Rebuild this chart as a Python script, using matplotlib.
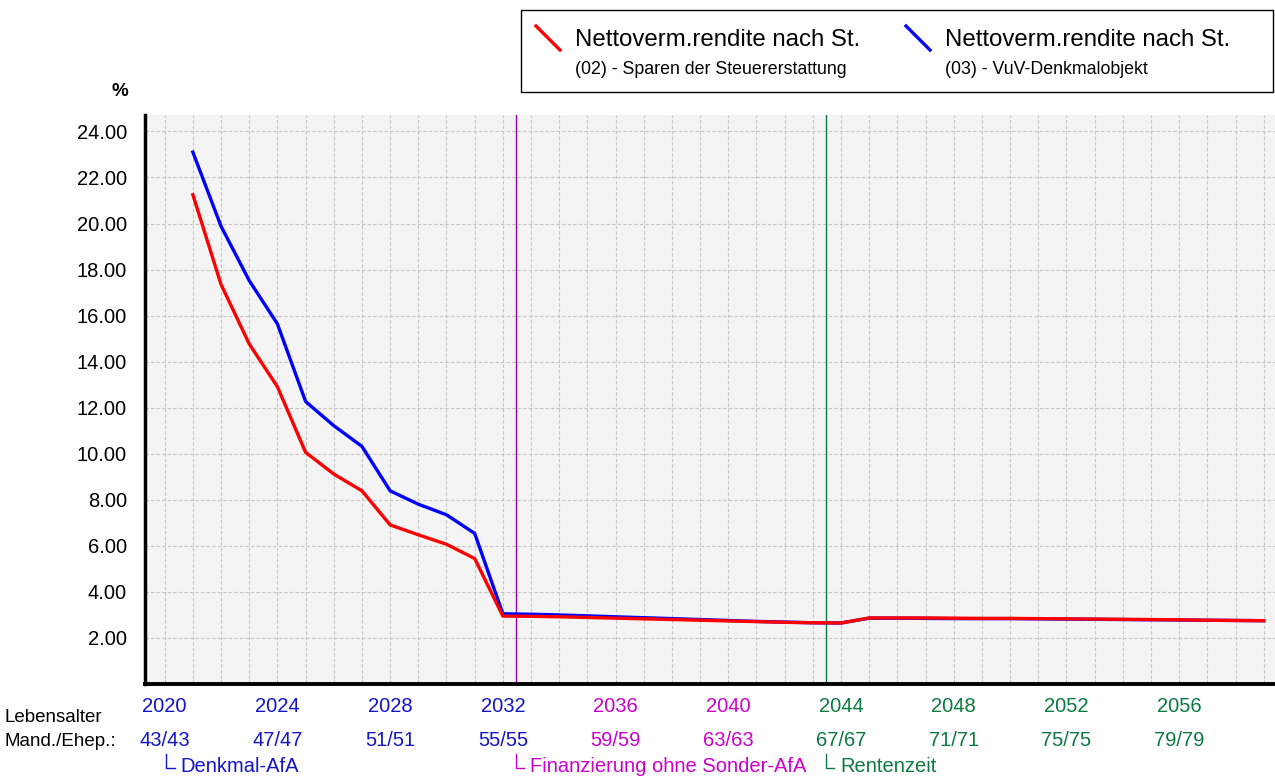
import matplotlib
matplotlib.use("Agg")
import matplotlib.pyplot as plt
from matplotlib.lines import Line2D
from matplotlib.patches import Rectangle
from matplotlib.transforms import blended_transform_factory

plt.rcParams['font.family'] = ['Liberation Sans', 'DejaVu Sans']

# --- data ---
years = list(range(2021, 2060))
rendite_02 = [21.25, 17.35, 14.77, 12.91, 10.06, 9.12, 8.39, 6.91, 6.48, 6.07, 5.45,
              2.95, 2.94, 2.92, 2.89, 2.86, 2.83, 2.80, 2.77, 2.74, 2.71, 2.68, 2.66, 2.65,
              2.87, 2.87, 2.87, 2.86, 2.85, 2.85, 2.84, 2.83, 2.82, 2.81, 2.80, 2.79, 2.77, 2.76, 2.75]
rendite_03 = [23.10, 19.88, 17.52, 15.64, 12.27, 11.22, 10.32, 8.39, 7.81, 7.35, 6.54,
              3.05, 3.03, 3.00, 2.96, 2.92, 2.88, 2.84, 2.80, 2.76, 2.72, 2.69, 2.66, 2.65,
              2.86, 2.86, 2.85, 2.84, 2.84, 2.84, 2.83, 2.82, 2.81, 2.80, 2.79, 2.78, 2.77, 2.76, 2.75]
tick_years = [2020, 2024, 2028, 2032, 2036, 2040, 2044, 2048, 2052, 2056]
tick_ages = ['43/43', '47/47', '51/51', '55/55', '59/59', '63/63', '67/67', '71/71', '75/75', '79/79']
phase_starts = [2020.05, 2032.45, 2043.45]
phase_names = ['Denkmal-AfA', 'Finanzierung ohne Sonder-AfA', 'Rentenzeit']
legend_main = ['Nettoverm.rendite nach St.', 'Nettoverm.rendite nach St.']
legend_sub = ['(02) - Sparen der Steuererstattung', '(03) - VuV-Denkmalobjekt']

BLUE = '#1414c8'
MAGENTA = '#cc00cc'
GREEN = '#0a7a40'
PHASE_COL = [BLUE, MAGENTA, GREEN]
LINE_COL = [None, '#9900aa', '#0a7a40']

def year_color(y):
    if y < 2033:
        return BLUE
    if y < 2044:
        return MAGENTA
    return GREEN

W, H = 1275, 778
fig = plt.figure(figsize=(12.75, 7.78), dpi=100)
ax = fig.add_axes([0.1137, 0.1208, 0.8863, 0.731])
ax.set_facecolor('#f4f4f4')

ax.plot(years, rendite_03, color='#0000ff', lw=2.4, solid_joinstyle='round', zorder=3)
ax.plot(years, rendite_02, color='#ff0000', lw=2.4, solid_joinstyle='round', zorder=4)

for x, c in zip(phase_starts[1:], LINE_COL[1:]):
    ax.axvline(x, color=c, lw=1.0, zorder=2)

ax.set_xlim(2019.3, 2059.4)
ax.set_ylim(0, 24.7)

ax.set_yticks(range(2, 25, 2))
ax.set_yticklabels(['%.2f' % v for v in range(2, 25, 2)], fontsize=14.5)
ax.set_xticks(range(2020, 2060), minor=True)
ax.set_xticks(tick_years)
ax.set_xticklabels([str(y) for y in tick_years], fontsize=14.5)
for lab, y in zip(ax.get_xticklabels(), tick_years):
    lab.set_color(year_color(y))

ax.tick_params(axis='y', length=0, pad=13)
ax.tick_params(axis='x', which='both', direction='in', length=3, color='#b0b0b0', pad=9.5)

ax.grid(True, which='both', axis='x', color='#c4c4c4', ls=(0, (3, 2)), lw=0.8)
ax.grid(True, which='major', axis='y', color='#c4c4c4', ls=(0, (3, 2)), lw=0.8)
ax.set_axisbelow(True)

for s in ['top', 'right']:
    ax.spines[s].set_visible(False)
ax.spines['left'].set_linewidth(2.5)
ax.spines['bottom'].set_linewidth(2.8)

tr = blended_transform_factory(ax.transData, fig.transFigure)
for y, a in zip(tick_years, tick_ages):
    ax.text(y, 1 - 741 / H, a, transform=tr, ha='center', va='center',
            fontsize=14.5, color=year_color(y))

# phase brackets under the age row
for x, name, c in zip(phase_starts, phase_names, PHASE_COL):
    ax.add_line(Line2D([x, x, x + 0.3], [1 - 754 / H, 1 - 768 / H, 1 - 768 / H],
                       transform=tr, color=c, lw=1.0, clip_on=False))
    ax.text(x + 0.52, 1 - 767 / H, name, transform=tr, ha='left', va='center',
            fontsize=14.5, color=c)

fig.text(5 / W, 1 - 718 / H, 'Lebensalter', fontsize=13.5, va='center')
fig.text(5 / W, 1 - 741 / H, 'Mand./Ehep.:', fontsize=13.5, va='center')
fig.text(120 / W, 1 - 92 / H, '%', fontsize=13.5, fontweight='bold', ha='center', va='center')

# legend box
fig.patches.append(Rectangle((521 / W, 1 - 92 / H), (1273 - 521) / W, 82 / H,
                             transform=fig.transFigure, fill=False, ec='black', lw=1.0))
for i, (col, xl, xt) in enumerate([('#ff0000', 536, 575), ('#0000ff', 906, 945)]):
    fig.add_artist(Line2D([xl / W, (xl + 24) / W], [1 - 26 / H, 1 - 50 / H],
                          transform=fig.transFigure, color=col, lw=2.4))
    fig.text(xt / W, 1 - 40 / H, legend_main[i], fontsize=17.3, va='center')
    fig.text(xt / W, 1 - 69 / H, legend_sub[i], fontsize=12.8, va='center')

fig.savefig('out.png', dpi=100)
